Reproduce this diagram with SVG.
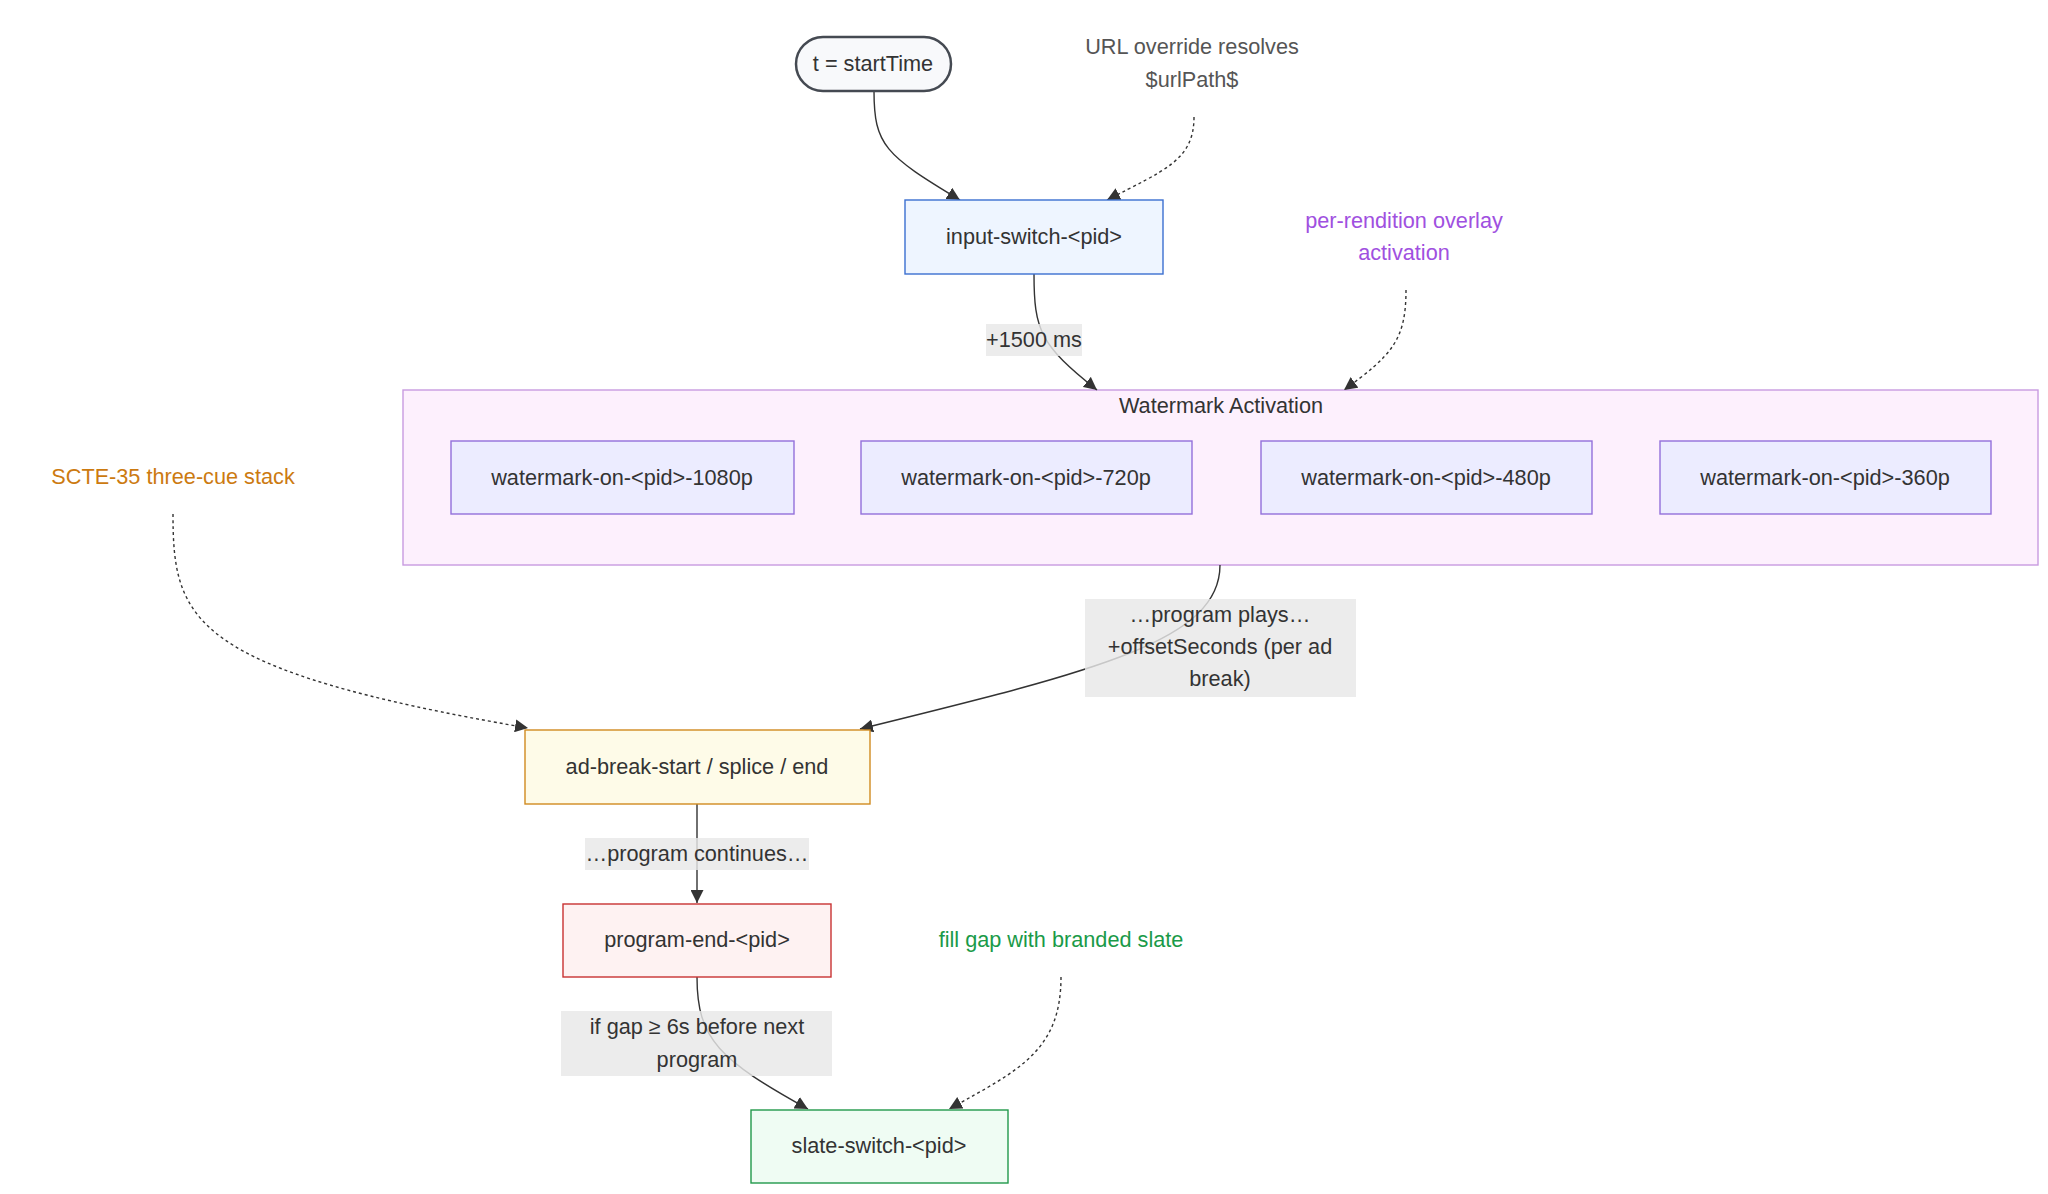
<svg xmlns="http://www.w3.org/2000/svg" width="2048" height="1194" viewBox="0 0 2048 1194">
<style>
text{font-family:"Liberation Sans",Arial,sans-serif;font-size:21.7px;fill:#333;text-anchor:middle;dominant-baseline:central}
.edge{fill:none;stroke:#333;stroke-width:1.4}
.dot{stroke-dasharray:3 3}
.lbl{fill:#e8e8e8;opacity:0.82}
.wm{fill:#ececff;stroke:#9370db;stroke-width:1.4}
</style>
<defs>
<marker id="arr" viewBox="0 0 10 10" refX="10" refY="5" markerWidth="13" markerHeight="13" markerUnits="userSpaceOnUse" orient="auto">
<path d="M0,0 L10,5 L0,10 z" fill="#333"/>
</marker>
</defs>
<rect width="2048" height="1194" fill="#fff"/>
<g id="cluster-watermark">
<rect x="403" y="390" width="1635" height="175" fill="#fdf0fd" stroke="#c89be0" stroke-width="1.4"/>
<text x="1221" y="405">Watermark Activation</text>
</g>
<g id="edges">
<path class="edge" d="M874,91 C874,145 885,155 960,200" marker-end="url(#arr)"/>
<path class="edge dot" d="M1194,117 C1194,160 1165,170 1107,200" marker-end="url(#arr)"/>
<path class="edge" d="M1034,274 C1034,330 1040,345 1097,390" marker-end="url(#arr)"/>
<path class="edge dot" d="M1406,290 C1406,340 1392,355 1344,390" marker-end="url(#arr)"/>
<path class="edge" d="M1220,565 C1220,640 1100,670 860,729" marker-end="url(#arr)"/>
<path class="edge dot" d="M173,514 C173,620 190,670 528,728" marker-end="url(#arr)"/>
<path class="edge" d="M697,804 L697,903" marker-end="url(#arr)"/>
<path class="edge" d="M697,977 C697,1040 720,1060 808,1109" marker-end="url(#arr)"/>
<path class="edge dot" d="M1061,977 C1061,1050 1020,1070 949,1109" marker-end="url(#arr)"/>
</g>
<g id="edge-labels">
<rect class="lbl" x="986" y="324" width="96" height="32"/>
<text x="1034" y="339">+1500 ms</text>
<rect class="lbl" x="1085" y="599" width="271" height="98"/>
<text x="1220" y="614">…program plays…</text>
<text x="1220" y="646">+offsetSeconds (per ad</text>
<text x="1220" y="678">break)</text>
<rect class="lbl" x="585" y="838" width="224" height="32"/>
<text x="697" y="853">…program continues…</text>
<rect class="lbl" x="561" y="1011" width="271" height="65"/>
<text x="697" y="1026">if gap ≥ 6s before next</text>
<text x="697" y="1059">program</text>
</g>
<g id="start">
<rect x="796" y="37" width="155" height="54" rx="27" fill="#f8f9fb" stroke="#454a52" stroke-width="2.5"/>
<text x="873" y="63">t = startTime</text>
</g>
<g id="note-url">
<text x="1192" y="46" style="fill:#555">URL override resolves</text>
<text x="1192" y="79" style="fill:#555">$urlPath$</text>
</g>
<g id="input-switch">
<rect x="905" y="200" width="258" height="74" fill="#eef5ff" stroke="#3b6fd0" stroke-width="1.4"/>
<text x="1034" y="236">input-switch-&lt;pid&gt;</text>
</g>
<g id="note-overlay">
<text x="1404" y="220" style="fill:#a050e0">per-rendition overlay</text>
<text x="1404" y="252" style="fill:#a050e0">activation</text>
</g>
<g id="wm-1080">
<rect class="wm" x="451" y="441" width="343" height="73"/>
<text x="622" y="477">watermark-on-&lt;pid&gt;-1080p</text>
</g>
<g id="wm-720">
<rect class="wm" x="861" y="441" width="331" height="73"/>
<text x="1026" y="477">watermark-on-&lt;pid&gt;-720p</text>
</g>
<g id="wm-480">
<rect class="wm" x="1261" y="441" width="331" height="73"/>
<text x="1426" y="477">watermark-on-&lt;pid&gt;-480p</text>
</g>
<g id="wm-360">
<rect class="wm" x="1660" y="441" width="331" height="73"/>
<text x="1825" y="477">watermark-on-&lt;pid&gt;-360p</text>
</g>
<g id="note-scte">
<text x="173" y="476" style="fill:#cc7a10">SCTE-35 three-cue stack</text>
</g>
<g id="ad-break">
<rect x="525" y="730" width="345" height="74" fill="#fefbe8" stroke="#d08a20" stroke-width="1.4"/>
<text x="697" y="766">ad-break-start / splice / end</text>
</g>
<g id="program-end">
<rect x="563" y="904" width="268" height="73" fill="#fef2f2" stroke="#c83232" stroke-width="1.4"/>
<text x="697" y="939">program-end-&lt;pid&gt;</text>
</g>
<g id="note-slate">
<text x="1061" y="939" style="fill:#1a9a48">fill gap with branded slate</text>
</g>
<g id="slate-switch">
<rect x="751" y="1110" width="257" height="73" fill="#effcf3" stroke="#22994a" stroke-width="1.4"/>
<text x="879" y="1145">slate-switch-&lt;pid&gt;</text>
</g>
</svg>
